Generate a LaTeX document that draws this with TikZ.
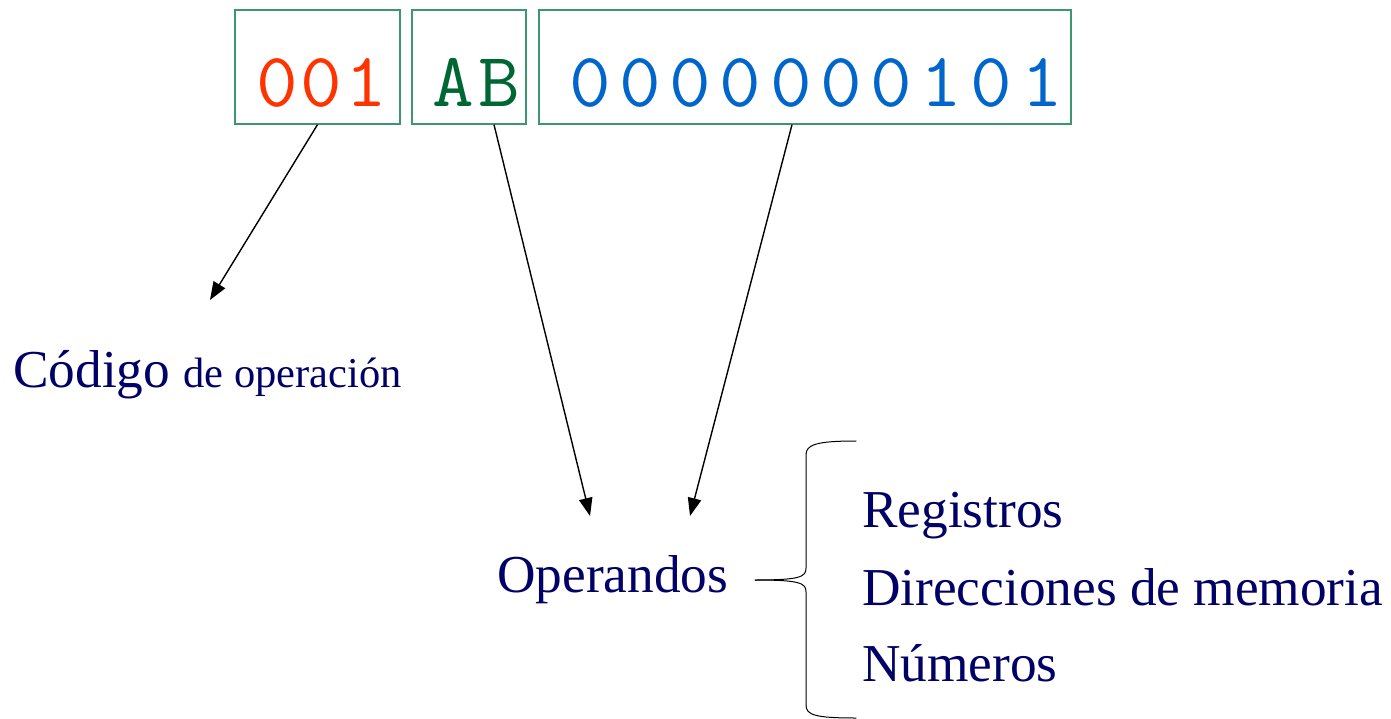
\documentclass[tikz,border=0pt]{standalone}
\usepackage{fontspec}
\setmainfont{Liberation Serif}
\newfontfamily\codefont{Latin Modern Mono}[FakeStretch=1.05]
\usetikzlibrary{arrows.meta,positioning}

\definecolor{framegreen}{RGB}{60,150,110}
\definecolor{opred}{RGB}{255,51,0}
\definecolor{abgreen}{RGB}{0,102,51}
\definecolor{numblue}{RGB}{0,102,204}
\definecolor{navytext}{RGB}{0,0,102}

% one character of the code fields in a cell of fixed pitch
\newlength{\cellpitch}
\newcommand{\cellchar}[1]{\makebox[\cellpitch]{#1}}

\tikzset{
  codebox/.style={draw=framegreen, line width=1.3pt, inner sep=0pt},
  codetext/.style={anchor=base, inner sep=0pt, font=\codefont\fontsize{77}{77}\selectfont},
  label/.style={anchor=base west, inner sep=0pt, text=navytext, font=\fontsize{53.3}{53}\selectfont},
  arr/.style={line width=1.4pt, -{Triangle[length=18pt,width=13.5pt]}},
  brace/.style={line width=1pt, line cap=round, line join=round}
}

\begin{document}
\begin{tikzpicture}[x=1pt, y=-1pt]
  \useasboundingbox (0,0) rectangle (1391,719);

  % instruction word fields
  \node[codebox, minimum width=165pt, minimum height=114pt] (opbox)  at (317.5,67) {};
  \node[codebox, minimum width=114pt, minimum height=114pt] (abbox)  at (469,67)   {};
  \node[codebox, minimum width=532pt, minimum height=114pt] (numbox) at (805,67)   {};

  \node[codetext, text=opred] (optext) at (321.5,107)
    {\setlength{\cellpitch}{44.5pt}\cellchar{0}\cellchar{0}\cellchar{1}};
  \node[codetext, text=abgreen] (abtext) at (476.5,107)
    {\setlength{\cellpitch}{46pt}\cellchar{A}\cellchar{B}};
  \node[codetext, text=numblue] (numtext) at (816,107)
    {\setlength{\cellpitch}{50.2pt}\cellchar{0}\cellchar{0}\cellchar{0}\cellchar{0}\cellchar{0}\cellchar{0}\cellchar{0}\cellchar{1}\cellchar{0}\cellchar{1}};

  % labels
  \node[label] (codigo) at (13,387)
    {Código {\fontsize{42.5}{43}\selectfont de operación}};
  \node[label] (operandos) at (497,592) {Operandos};
  \node[label] (registros) at (862,527) {Registros};
  \node[label] (direcciones) at (862,605) {Direcciones de memoria};
  \node[label] (numeros) at (862,681) {Números};

  % arrow end points
  \coordinate (codtip) at (210,300);
  \coordinate (optipA) at (590,516);
  \coordinate (optipB) at (690,516);

  \draw[arr] (opbox.south) -- (codtip);
  \draw[arr] ([xshift=25pt]abbox.south) -- (optipA);
  \draw[arr] ([xshift=-13pt]numbox.south) -- (optipB);

  % brace grouping the operand kinds
  \coordinate (bracetip) at (755,580);
  \draw[brace] (bracetip) .. controls (800,580) and (806,577) .. (806,568)
    -- (806,455) .. controls (806,445) and (815,441) .. (856,441);
  \draw[brace] (bracetip) .. controls (800,580) and (806,583) .. (806,592)
    -- (806,705) .. controls (806,715) and (815,718) .. (856,718);
\end{tikzpicture}
\end{document}
